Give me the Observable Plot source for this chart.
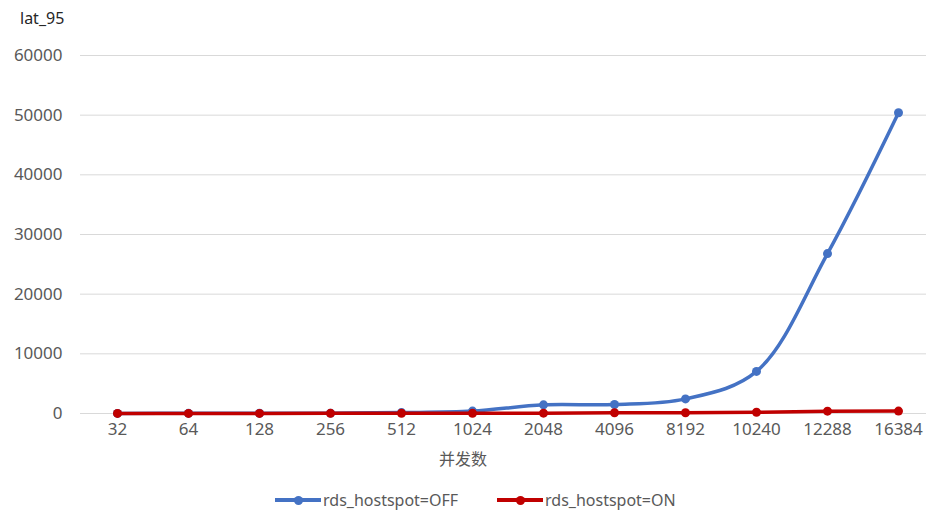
<!DOCTYPE html>
<html>
<head>
<meta charset="utf-8">
<script src="https://cdn.jsdelivr.net/npm/d3@7"></script>
<script src="https://cdn.jsdelivr.net/npm/@observablehq/plot@0.6"></script>
<style>
  html, body { margin: 0; padding: 0; background: #fff; overflow: hidden; }
  body { width: 926px; height: 513px; position: relative; font-family: "Noto Sans", "Noto Sans CJK SC", sans-serif; }
  #title { height: 36px; line-height: 36px; padding-left: 20px; font-size: 16px; color: #262626; }
  #xtitle { position: absolute; left: 0; top: 446px; width: 926px; text-align: left; font-size: 16px; color: #595959; }
  #xtitle span { position: absolute; left: 439px; font-family: "Noto Sans CJK SC", sans-serif; }
  #legend { position: absolute; top: 488px; left: 0; width: 926px; height: 24px; font-size: 16px; color: #595959; }
  .item { position: absolute; top: 0; display: flex; align-items: center; height: 24px; line-height: 20px; }
  .sw { position: relative; width: 46px; height: 4px; margin-right: 2px; }
  .sw i { position: absolute; left: 19px; top: -2.5px; width: 9px; height: 9px; border-radius: 50%; }
</style>
</head>
<body>
<div id="title">lat_95</div>
<div id="chart"></div>
<div id="xtitle"><span>并发数</span></div>
<div id="legend"></div>
<script>
const categories = ["32","64","128","256","512","1024","2048","4096","8192","10240","12288","16384"];
const offValues = [20, 30, 40, 60, 150, 400, 1450, 1500, 2450, 7050, 26800, 50400];
const onValues  = [10, 15, 20, 30, 40, 50, 60, 120, 130, 200, 390, 400];
const yTicks = [0, 10000, 20000, 30000, 40000, 50000, 60000];
const seriesNames = ["rds_hostspot=OFF", "rds_hostspot=ON"];
const seriesColors = ["#4472C4", "#C00000"];

const off = categories.map((c, i) => ({cat: c, value: offValues[i]}));
const on = categories.map((c, i) => ({cat: c, value: onValues[i]}));

const chart = Plot.plot({
  width: 926,
  height: 440,
  marginTop: 19,
  marginBottom: 63,
  marginLeft: 80,
  marginRight: 0,
  style: {fontFamily: '"Noto Sans", "Noto Sans CJK SC", sans-serif', fontSize: "17px", color: "#595959", background: "#fff"},
  x: {type: "point", domain: categories, range: [115, 899], padding: 0, label: null},
  y: {domain: [0, 60000], label: null},
  marks: [
    Plot.ruleY(yTicks, {stroke: "#d9d9d9", strokeWidth: 1}),
    Plot.axisY({ticks: yTicks, tickSize: 0, tickPadding: 18, tickFormat: d => String(d), fontSize: 17, fill: "#595959"}),
    Plot.axisX({tickSize: 0, tickPadding: 9, fontSize: 17, fill: "#595959"}),
    Plot.line(off, {x: "cat", y: "value", stroke: seriesColors[0], strokeWidth: 3.5, curve: "catmull-rom"}),
    Plot.dot(off, {x: "cat", y: "value", fill: seriesColors[0], r: 4.5}),
    Plot.line(on, {x: "cat", y: "value", stroke: seriesColors[1], strokeWidth: 3.5}),
    Plot.dot(on, {x: "cat", y: "value", fill: seriesColors[1], r: 4.5})
  ]
});
document.getElementById("chart").appendChild(chart);

const legend = document.getElementById("legend");
const lefts = [275, 497];
seriesNames.forEach((name, i) => {
  const it = document.createElement("div");
  it.className = "item";
  it.style.left = lefts[i] + "px";
  it.innerHTML = `<div class="sw" style="background:${seriesColors[i]}"><i style="background:${seriesColors[i]}"></i></div><span>${name}</span>`;
  legend.appendChild(it);
});
</script>
</body>
</html>
